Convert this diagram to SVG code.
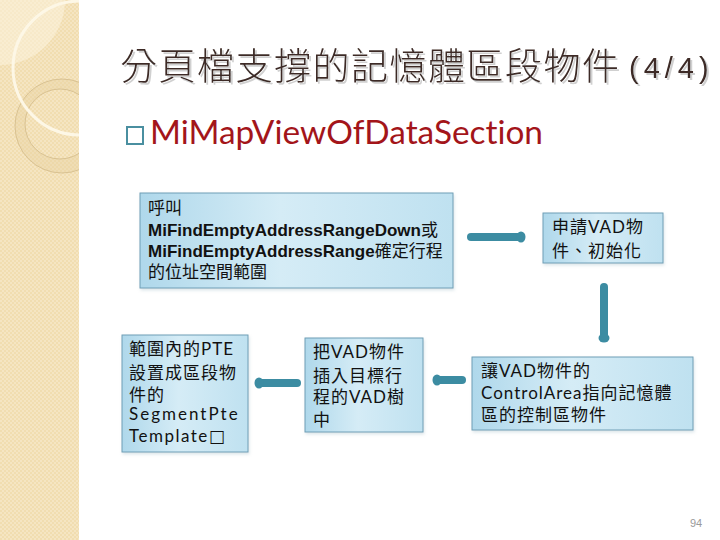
<svg xmlns="http://www.w3.org/2000/svg" width="720" height="540" viewBox="0 0 720 540">
<defs>
<style>
.title{font-family:"Noto Sans CJK TC","Noto Sans CJK SC",sans-serif;font-size:37px;font-weight:300;fill:#3D2C27;letter-spacing:1.5px}
.title2{font-family:"Liberation Sans",sans-serif;font-size:29px;fill:#3D2C27;letter-spacing:5px}
.bullet{font-family:"Lato","Liberation Sans",sans-serif;font-size:32px;fill:#A3151A;font-variant-ligatures:none}
.box{fill:url(#boxg);stroke:#6F9EB6;stroke-width:1}
.t{font-family:"Lato","Noto Sans CJK TC",sans-serif;font-size:17px;fill:#111;letter-spacing:1px;font-variant-ligatures:none}
.tb{font-family:"Liberation Sans","Noto Sans CJK TC",sans-serif;font-size:17px;fill:#111}
.b{font-weight:bold}
.sq{font-family:"DejaVu Sans",sans-serif;font-size:17px}
.arrow{stroke:#3C8CA2;stroke-width:8;stroke-linecap:round;fill:none;marker-end:url(#head)}
.pg{font-family:"Liberation Sans",sans-serif;font-size:11px;fill:#9A9A9A}
</style>
<linearGradient id="boxg" x1="0" y1="0" x2="1" y2="0">
<stop offset="0" stop-color="#AFD8EB"/>
<stop offset="0.45" stop-color="#D5ECF6"/>
<stop offset="1" stop-color="#BFE1F0"/>
</linearGradient>
<pattern id="chk" width="4" height="4" patternUnits="userSpaceOnUse">
<rect width="4" height="4" fill="#F1DDB0"/>
<rect width="2" height="2" fill="#F5E5C2"/>
<rect x="2" y="2" width="2" height="2" fill="#F5E5C2"/>
</pattern>
<clipPath id="strip"><rect x="0" y="0" width="79" height="540"/></clipPath>
<filter id="sh" x="-5%" y="-20%" width="110%" height="140%">
<feDropShadow dx="2" dy="2" stdDeviation="0.6" flood-color="#C4C4C4" flood-opacity="0.8"/>
</filter>
<filter id="bs" x="-10%" y="-10%" width="120%" height="130%">
<feDropShadow dx="1" dy="2" stdDeviation="1.5" flood-color="#9FB8C4" flood-opacity="0.35"/>
</filter>
<marker id="head" markerUnits="userSpaceOnUse" markerWidth="14" markerHeight="14" refX="7" refY="7" orient="auto">
<ellipse cx="7" cy="7" rx="4.5" ry="5.5" fill="#3C8CA2"/>
</marker>
</defs>

<g id="background">
<rect x="0" y="0" width="720" height="540" fill="#FFFFFF"/>
<rect x="0" y="0" width="79" height="540" fill="url(#chk)"/>
<g clip-path="url(#strip)">
<circle cx="0" cy="0" r="65" fill="#FBF1DB" opacity="0.6"/>
<path d="M62,79 a47,47 0 1,0 0.01,0 Z M60,89 a35,35 0 1,0 0.01,0 Z" fill="#E6CF9E" fill-rule="evenodd" opacity="0.35"/>
<circle cx="62" cy="126" r="47" fill="none" stroke="#D9C292" stroke-width="1"/>
<circle cx="60" cy="124" r="35" fill="none" stroke="#D9C292" stroke-width="1"/>
<circle cx="80" cy="68" r="67" fill="none" stroke="#FDF7E6" stroke-width="3"/>
</g>
</g>

<g id="title">
<text class="title" x="120" y="80" filter="url(#sh)">分頁檔支撐的記憶體區段物件</text>
<text class="title2" x="629" y="78" filter="url(#sh)">(4/4)</text>
</g>

<g id="bullet">
<rect x="127" y="127" width="16" height="17" fill="none" stroke="#4A8FA0" stroke-width="2"/>
<text class="bullet" x="150" y="144" textLength="393" lengthAdjust="spacingAndGlyphs">MiMapViewOfDataSection</text>
</g>

<g id="node1">
<rect class="box" x="140" y="193" width="313" height="95" filter="url(#bs)"/>
<text class="tb" x="148" y="214">呼叫</text>
<text class="tb" x="148" y="236"><tspan class="b">MiFindEmptyAddressRangeDown</tspan>或</text>
<text class="tb" x="148" y="257"><tspan class="b">MiFindEmptyAddressRange</tspan>確定行程</text>
<text class="tb" x="148" y="278">的位址空間範圍</text>
</g>

<g id="node2">
<rect class="box" x="543" y="213" width="120" height="50" filter="url(#bs)"/>
<text class="t" x="552" y="233">申請VAD物</text>
<text class="t" x="552" y="257">件、初始化</text>
</g>

<g id="node3">
<rect class="box" x="122" y="335" width="126" height="117" filter="url(#bs)"/>
<text class="t" x="129" y="355">範圍內的PTE</text>
<text class="t" x="129" y="379">設置成區段物</text>
<text class="t" x="129" y="401">件的</text>
<text class="t" x="129" y="420" style="letter-spacing:2px">SegmentPte</text>
<text class="t" x="129" y="442" style="letter-spacing:1.5px">Template<tspan class="sq">□</tspan></text>
</g>

<g id="node4">
<rect class="box" x="305" y="338" width="118" height="94" filter="url(#bs)"/>
<text class="t" x="313" y="358">把VAD物件</text>
<text class="t" x="313" y="382">插入目標行</text>
<text class="t" x="313" y="403">程的VAD樹</text>
<text class="t" x="313" y="426">中</text>
</g>

<g id="node5">
<rect class="box" x="472" y="357" width="221" height="73" filter="url(#bs)"/>
<text class="t" x="481" y="377">讓VAD物件的</text>
<text class="t" x="481" y="399">ControlArea指向記憶體</text>
<text class="t" x="481" y="421">區的控制區物件</text>
</g>

<g id="connectors">
<path class="arrow" d="M471,237 L521,237"/>
<path class="arrow" d="M604,287 L604,338"/>
<path class="arrow" d="M462,380 L437,380"/>
<path class="arrow" d="M297,383 L259,383"/>
</g>

<text class="pg" x="690" y="527">94</text>
</svg>
